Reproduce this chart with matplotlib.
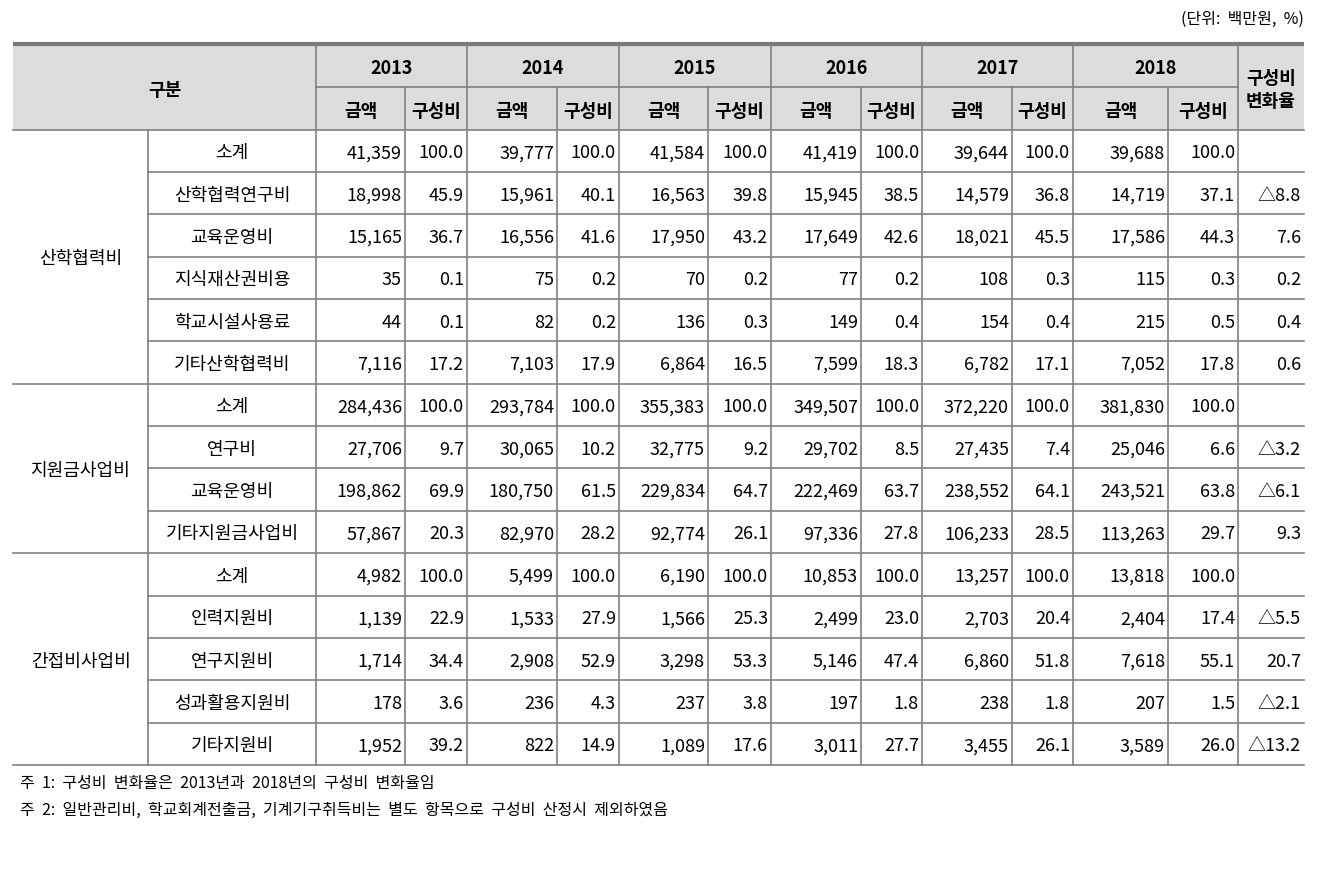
import matplotlib
matplotlib.use("Agg")
import matplotlib.pyplot as plt

plt.rcParams['font.family'] = ['Noto Sans CJK KR', 'DejaVu Sans']

# ---- data ----
years = ['2013', '2014', '2015', '2016', '2017', '2018']
groups = ['산학협력비', '지원금사업비', '간접비사업비']
items = [
    ['소계', '산학협력연구비', '교육운영비', '지식재산권비용', '학교시설사용료', '기타산학협력비'],
    ['소계', '연구비', '교육운영비', '기타지원금사업비'],
    ['소계', '인력지원비', '연구지원비', '성과활용지원비', '기타지원비'],
]
amounts = [
    [41359, 39777, 41584, 41419, 39644, 39688],
    [18998, 15961, 16563, 15945, 14579, 14719],
    [15165, 16556, 17950, 17649, 18021, 17586],
    [35, 75, 70, 77, 108, 115],
    [44, 82, 136, 149, 154, 215],
    [7116, 7103, 6864, 7599, 6782, 7052],
    [284436, 293784, 355383, 349507, 372220, 381830],
    [27706, 30065, 32775, 29702, 27435, 25046],
    [198862, 180750, 229834, 222469, 238552, 243521],
    [57867, 82970, 92774, 97336, 106233, 113263],
    [4982, 5499, 6190, 10853, 13257, 13818],
    [1139, 1533, 1566, 2499, 2703, 2404],
    [1714, 2908, 3298, 5146, 6860, 7618],
    [178, 236, 237, 197, 238, 207],
    [1952, 822, 1089, 3011, 3455, 3589],
]
ratios = [
    [100.0, 100.0, 100.0, 100.0, 100.0, 100.0],
    [45.9, 40.1, 39.8, 38.5, 36.8, 37.1],
    [36.7, 41.6, 43.2, 42.6, 45.5, 44.3],
    [0.1, 0.2, 0.2, 0.2, 0.3, 0.3],
    [0.1, 0.2, 0.3, 0.4, 0.4, 0.5],
    [17.2, 17.9, 16.5, 18.3, 17.1, 17.8],
    [100.0, 100.0, 100.0, 100.0, 100.0, 100.0],
    [9.7, 10.2, 9.2, 8.5, 7.4, 6.6],
    [69.9, 61.5, 64.7, 63.7, 64.1, 63.8],
    [20.3, 28.2, 26.1, 27.8, 28.5, 29.7],
    [100.0, 100.0, 100.0, 100.0, 100.0, 100.0],
    [22.9, 27.9, 25.3, 23.0, 20.4, 17.4],
    [34.4, 52.9, 53.3, 47.4, 51.8, 55.1],
    [3.6, 4.3, 3.8, 1.8, 1.8, 1.5],
    [39.2, 14.9, 17.6, 27.7, 26.1, 26.0],
]
change = [None, -8.8, 7.6, 0.2, 0.4, 0.6,
          None, -3.2, -6.1, 9.3,
          None, -5.5, 20.7, -2.1, -13.2]
unit_label = '(단위:  백만원,  %)'
notes = ['주  1:  구성비  변화율은  2013년과  2018년의  구성비  변화율임',
         '주  2:  일반관리비,  학교회계전출금,  기계기구취득비는  별도  항목으로  구성비  산정시  제외하였음']

# ---- layout (pixels) ----
W, H = 1325, 879
fig = plt.figure(figsize=(W / 100, H / 100), dpi=100)
ax = fig.add_axes([0, 0, 1, 1])
ax.set_xlim(0, W)
ax.set_ylim(H, 0)
ax.axis('off')

left, right = 13, 1304
x_group, x_item = 148, 316
year_edges = [316, 467, 619, 771, 922, 1073, 1238]
year_splits = [405, 557, 708, 861, 1012, 1168]
top, head_mid, head_bot, bottom = 45, 88, 130.5, 766
n_rows = len(amounts)
row_h = (bottom - head_bot) / n_rows
line_c = '#808080'
fs = 13
dy = 1.5  # CJK font sits a bit high with va='center'

# header background
ax.fill_between([left, right], top, head_bot, color='#dcdcdc', lw=0, zorder=0)
ax.plot([left, right], [top, top], color='#7a7a7a', lw=3, solid_capstyle='butt')

# header lines
ax.plot([year_edges[0], year_edges[-1]], [head_mid, head_mid], color=line_c, lw=1.2)
for x in year_edges:
    ax.plot([x, x], [top, bottom], color=line_c, lw=1.2)
for x in year_splits:
    ax.plot([x, x], [head_mid, bottom], color=line_c, lw=1.2)
ax.plot([x_group, x_group], [head_bot, bottom], color=line_c, lw=1.2)

# header text
ax.text((left + x_item) / 2, (top + head_bot) / 2 + 3, '구분', ha='center', va='center',
        fontsize=fs, fontweight='bold')
for i, yr in enumerate(years):
    ax.text((year_edges[i] + year_edges[i + 1]) / 2, (top + head_mid) / 2 + 2, yr,
            ha='center', va='center', fontsize=fs, fontweight='bold')
    ax.text((year_edges[i] + year_splits[i]) / 2, (head_mid + head_bot) / 2 + 2, '금액',
            ha='center', va='center', fontsize=fs, fontweight='bold')
    ax.text((year_splits[i] + year_edges[i + 1]) / 2, (head_mid + head_bot) / 2 + 2, '구성비',
            ha='center', va='center', fontsize=fs, fontweight='bold')
ax.text((year_edges[-1] + right) / 2, 90, '구성비\n변화율', ha='center', va='center',
        fontsize=fs, fontweight='bold', linespacing=1.25)

# body
r = 0
for g, grp in enumerate(groups):
    g_top = head_bot + r * row_h
    g_bot = g_top + len(items[g]) * row_h
    ax.plot([left, right], [g_top, g_top], color=line_c, lw=1.2)
    ax.text((left + x_group) / 2, (g_top + g_bot) / 2 + dy, grp, ha='center', va='center', fontsize=fs)
    for k, it in enumerate(items[g]):
        y0 = head_bot + r * row_h
        yc = y0 + row_h / 2 + dy
        if k > 0:
            ax.plot([x_group, right], [y0, y0], color=line_c, lw=1.2)
        ax.text((x_group + x_item) / 2, yc, it, ha='center', va='center', fontsize=fs)
        for i in range(len(years)):
            ax.text(year_splits[i] - 3, yc, f'{amounts[r][i]:,}', ha='right', va='center', fontsize=fs)
            ax.text(year_edges[i + 1] - 3, yc, f'{ratios[r][i]:.1f}', ha='right', va='center', fontsize=fs)
        c = change[r]
        if c is not None:
            s = f'△{abs(c):.1f}' if c < 0 else f'{c:.1f}'
            ax.text(right - 3, yc, s, ha='right', va='center', fontsize=fs)
        r += 1
ax.plot([left, right], [bottom, bottom], color=line_c, lw=1.2)

# unit and notes
ax.text(right, 19, unit_label, ha='right', va='center', fontsize=11.5)
ax.text(20, 784, notes[0], ha='left', va='center', fontsize=11.5)
ax.text(20, 810, notes[1], ha='left', va='center', fontsize=11.5)

fig.savefig('out.png', dpi=100)
